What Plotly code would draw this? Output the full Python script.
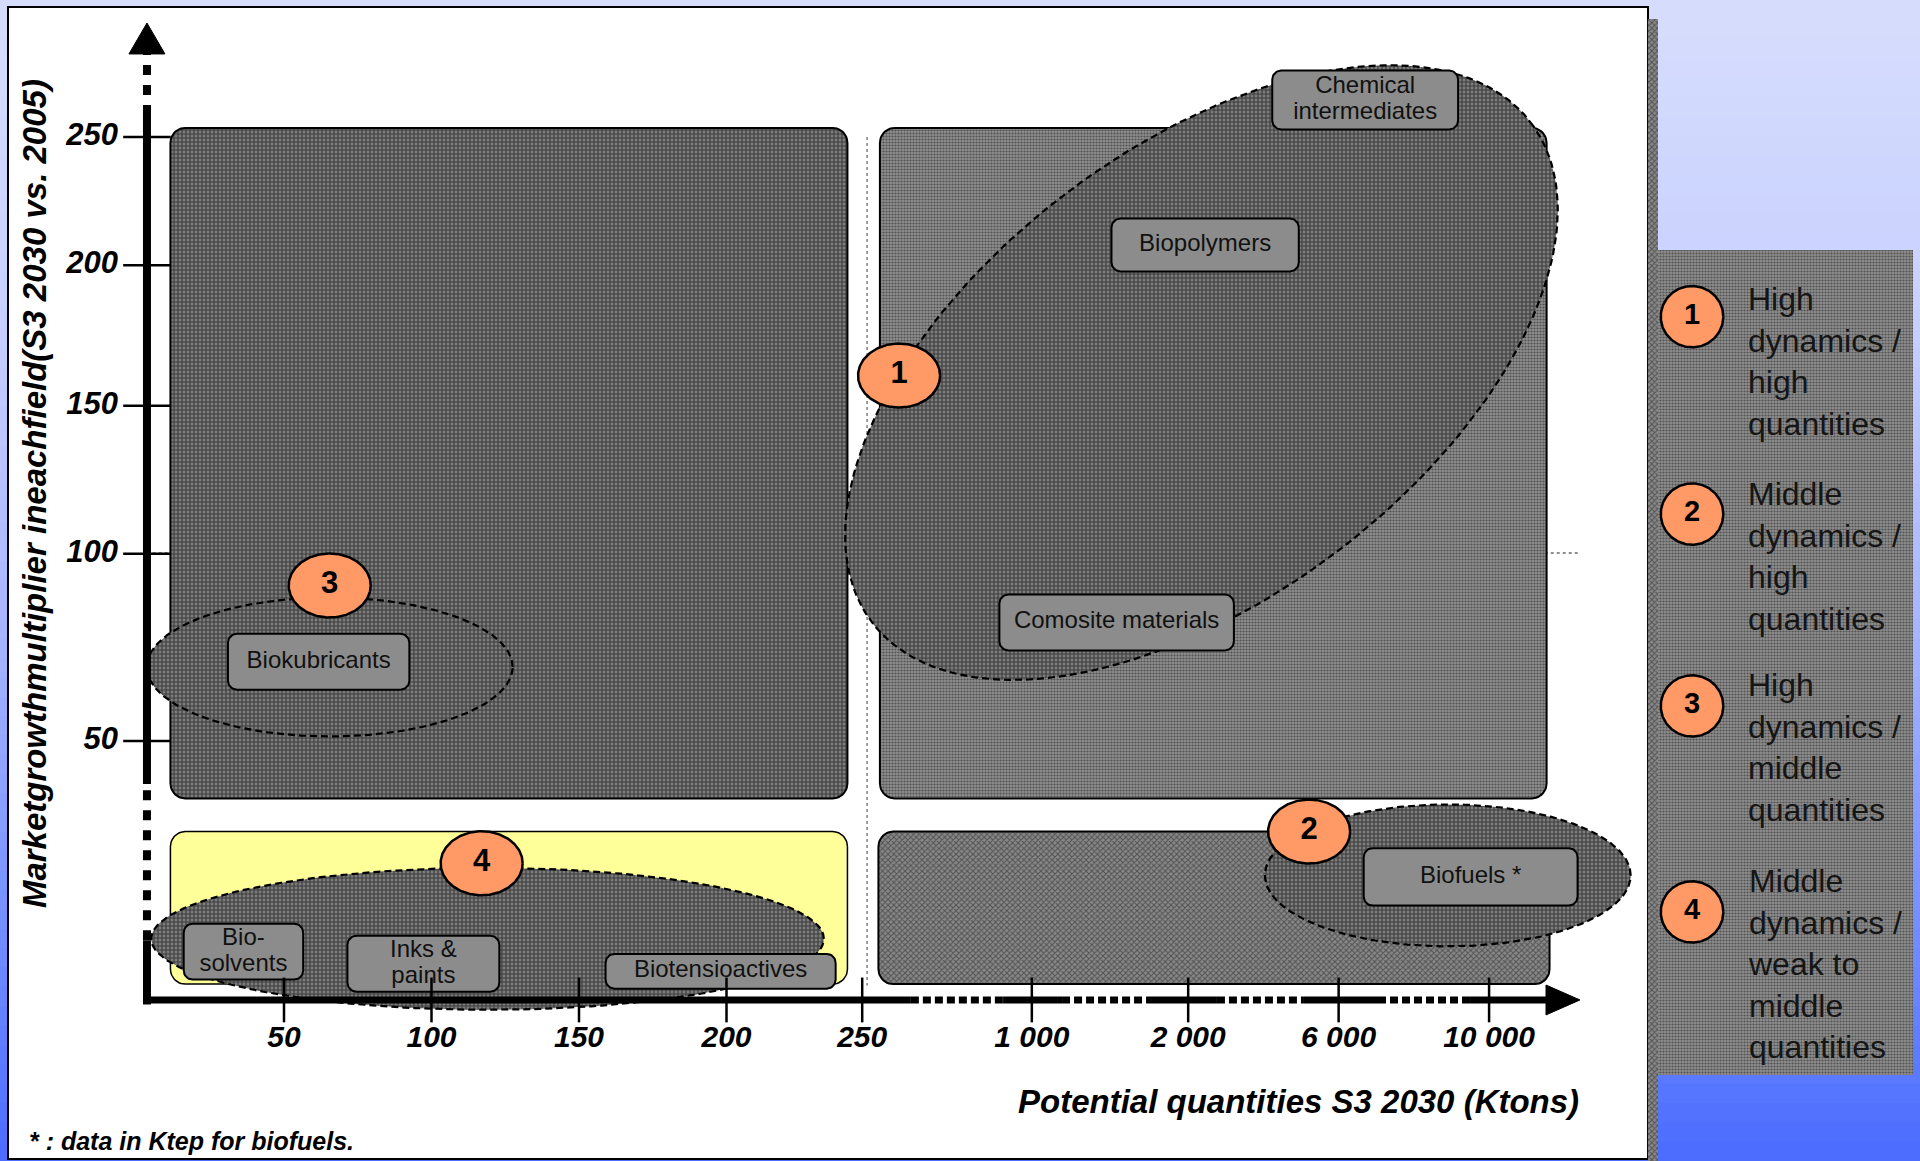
import numpy as np
import plotly.graph_objects as go

FONT = "Liberation Sans, Arial, Helvetica, sans-serif"

# ---------------------------------------------------------------------------
# Axis scales (axis units: one unit is roughly one labelled tick step)
# ---------------------------------------------------------------------------
X_TICK_LABELS = ["50", "100", "150", "200", "250", "1 000", "2 000", "6 000", "10 000"]
X_TICK_POS = [1.0, 2.0, 3.0, 4.0, 4.92, 6.07, 7.13, 8.15, 9.17]
Y_TICK_LABELS = ["50", "100", "150", "200", "250"]
Y_TICK_POS = [1.0, 2.24, 3.22, 4.15, 5.0]

X_TITLE = "Potential quantities S3 2030 (Ktons)"
Y_TITLE = "Marketgrowthmultiplier ineachfield(S3 2030 vs. 2005)"
FOOTNOTE = "* : data in Ktep for biofuels."

# ---------------------------------------------------------------------------
# Quadrants of the growth / quantity map
# ---------------------------------------------------------------------------
QUAD_NAMES = ["high growth, low quantity", "high growth, high quantity",
              "low growth, low quantity", "low growth, high quantity"]
QUAD_X0 = [0.23, 5.04, 0.23, 5.03]
QUAD_X1 = [4.82, 9.56, 4.82, 9.58]
QUAD_Y0 = [0.62, 0.62, -0.61, -0.61]
QUAD_Y1 = [5.06, 5.06, 0.40, 0.40]

# ---------------------------------------------------------------------------
# Numbered groups of fields (ellipses)
# ---------------------------------------------------------------------------
GROUP_IDS = ["1", "2", "3", "4"]
GROUP_CX = [7.22, 8.89, 1.31, 2.38]
GROUP_CY = [3.44, 0.11, 1.49, -0.31]
GROUP_RX = [2.78, 1.24, 1.24, 2.28]
GROUP_RY = [1.50, 0.47, 0.46, 0.47]
GROUP_TILT = [36.0, 0.0, 0.0, 0.0]
GROUP_BADGE_X = [5.17, 7.95, 1.31, 2.34]
GROUP_BADGE_Y = [3.42, 0.40, 2.03, 0.19]
GROUP_DESC = [
    "High<br>dynamics /<br>high<br>quantities",
    "Middle<br>dynamics /<br>high<br>quantities",
    "High<br>dynamics /<br>middle<br>quantities",
    "Middle<br>dynamics /<br>weak to<br>middle<br>quantities",
]

# ---------------------------------------------------------------------------
# Application fields (label boxes)
# ---------------------------------------------------------------------------
FIELDS = ["Chemical<br>intermediates", "Biopolymers", "Comosite materials",
          "Biokubricants", "Biofuels *", "Bio-<br>solvents", "Inks &<br>paints",
          "Biotensioactives"]
FIELD_X0 = [7.70, 6.61, 5.85, 0.62, 8.32, 0.32, 1.43, 3.18]
FIELD_X1 = [8.96, 7.88, 7.44, 1.85, 9.77, 1.13, 2.46, 4.74]
FIELD_Y0 = [5.05, 4.11, 1.60, 1.34, -0.09, -0.58, -0.66, -0.64]
FIELD_Y1 = [5.44, 4.46, 1.97, 1.71, 0.29, -0.21, -0.29, -0.41]

# ---------------------------------------------------------------------------
# Styles
# ---------------------------------------------------------------------------
PAT_DARK = dict(shape="+", bgcolor="#7c7c7c", fgcolor="#000000", size=4, solidity=0.5)
PAT_LIGHT = dict(shape=".", bgcolor="#8e8e8e", fgcolor="#181818", size=3, solidity=0.42)
PAT_MEDIUM = dict(shape="x", bgcolor="#888888", fgcolor="#1c1c1c", size=4, solidity=0.45)
QUAD_STYLE = [("#4c4c4c", PAT_DARK), ("#8a8a8a", PAT_LIGHT),
              ("#FFFF99", None), ("#7a7a7a", PAT_MEDIUM)]
ORANGE = "#FF9966"
BOX_GRAY = "#8c8c8c"

# view window of the axes (covers the whole canvas)
X_RANGE = [-0.9254, 12.0915]
Y_RANGE = [-1.7815, 5.9073]

fig = go.Figure()


def ellipse(cx, cy, rx, ry, tilt=0.0, n=200):
    t = np.linspace(0, 2 * np.pi, n + 1)
    th = np.deg2rad(tilt)
    x = cx + rx * np.cos(th) * np.cos(t) - ry * np.sin(th) * np.sin(t)
    y = cy + rx * np.sin(th) * np.cos(t) + ry * np.cos(th) * np.sin(t)
    return x, y


def rounded_rect(x0, x1, y0, y1, r):
    xs, ys = [], []
    corners = [(x1 - r, y1 - r, 0, 90), (x0 + r, y1 - r, 90, 180),
               (x0 + r, y0 + r, 180, 270), (x1 - r, y0 + r, 270, 360)]
    for cx, cy, a0, a1 in corners:
        a = np.deg2rad(np.linspace(a0, a1, 12))
        xs.extend(cx + r * np.cos(a))
        ys.extend(cy + r * np.sin(a))
    xs.append(xs[0])
    ys.append(ys[0])
    return xs, ys


def add_area(x, y, fill, line_color="black", line_width=2.0, dash=None, pattern=None):
    kw = dict(x=x, y=y, mode="lines", fill="toself", fillcolor=fill,
              line=dict(color=line_color, width=line_width, dash=dash),
              hoverinfo="skip", showlegend=False)
    if pattern is not None:
        kw["fillpattern"] = pattern
    fig.add_trace(go.Scatter(**kw))


def add_line(x, y, width, color="black", dash=None):
    fig.add_trace(go.Scatter(x=x, y=y, mode="lines",
                             line=dict(color=color, width=width, dash=dash),
                             hoverinfo="skip", showlegend=False))


def add_text(x, y, text, size, color="black", position="middle center"):
    fig.add_trace(go.Scatter(x=x, y=y, mode="text", text=text, textposition=position,
                             textfont=dict(family=FONT, size=size, color=color),
                             hoverinfo="skip", showlegend=False))


# ---- right-hand side: shadow strip and legend panel -----------------------
add_area([10.247, 10.315, 10.315, 10.247, 10.247], [5.781, 5.781, -1.79, -1.79, 5.781],
         "#7a7a7a", line_width=0, pattern=PAT_MEDIUM)
add_area([10.315, 12.044, 12.044, 10.315, 10.315], [4.252, 4.252, -1.212, -1.212, 4.252],
         "#8e8e8e", line_width=0, pattern=PAT_LIGHT)

# ---- dotted reference lines splitting the map -----------------------------
add_line([0.11, 9.79], [2.245, 2.245], 1.3, color="#6a6a6a", dash="dot")
add_line([4.953, 4.953], [5.0, -0.62], 1.3, color="#6a6a6a", dash="dot")

# ---- quadrants ------------------------------------------------------------
for i in range(len(QUAD_NAMES)):
    fill, pat = QUAD_STYLE[i]
    x, y = rounded_rect(QUAD_X0[i], QUAD_X1[i], QUAD_Y0[i], QUAD_Y1[i], 0.1)
    add_area(x, y, fill, line_width=2.0 if pat is not None else 1.5, pattern=pat)

# ---- group ellipses -------------------------------------------------------
for i in range(len(GROUP_IDS)):
    x, y = ellipse(GROUP_CX[i], GROUP_CY[i], GROUP_RX[i], GROUP_RY[i], GROUP_TILT[i])
    add_area(x, y, "#4c4c4c", line_width=2.2, dash="7px,4px", pattern=PAT_DARK)

# ---- field label boxes ----------------------------------------------------
LINE_STEP = 0.086
for i, name in enumerate(FIELDS):
    x, y = rounded_rect(FIELD_X0[i], FIELD_X1[i], FIELD_Y0[i], FIELD_Y1[i], 0.06)
    add_area(x, y, BOX_GRAY, line_width=2.0)
    lines = name.split("<br>")
    cx = (FIELD_X0[i] + FIELD_X1[i]) / 2
    cy = (FIELD_Y0[i] + FIELD_Y1[i]) / 2
    offs = [(len(lines) - 1) / 2 - k for k in range(len(lines))]
    add_text([cx] * len(lines), [cy + o * 2 * LINE_STEP for o in offs], lines, 24,
             color="#111111")

# ---- numbered badges on the map -------------------------------------------
for i, gid in enumerate(GROUP_IDS):
    x, y = ellipse(GROUP_BADGE_X[i], GROUP_BADGE_Y[i], 0.278, 0.212)
    add_area(x, y, ORANGE, line_width=2.5)
add_text(GROUP_BADGE_X, GROUP_BADGE_Y, [f"<b>{g}</b>" for g in GROUP_IDS], 31)

# ---- legend badges and descriptions ---------------------------------------
LEG_X = 10.546
LEG_BADGE_Y = [3.81, 2.503, 1.232, -0.132]
LEG_TEXT_Y = [3.51, 2.225, 0.960, -0.480]
for i, gid in enumerate(GROUP_IDS):
    x, y = ellipse(LEG_X, LEG_BADGE_Y[i], 0.212, 0.203)
    add_area(x, y, ORANGE, line_width=2.5)
add_text([LEG_X] * 4, LEG_BADGE_Y, [f"<b>{g}</b>" for g in GROUP_IDS], 29)

# ---- axes ------------------------------------------------------------------
AX_X = 0.071     # vertical axis position on the x scale
AX_Y = -0.715    # horizontal axis position on the y scale

# vertical axis: solid and broken stretches, arrow head
add_line([AX_X, AX_X], [AX_Y - 0.03, -0.32], 8)
add_line([AX_X, AX_X], [-0.32, 0.715], 8, dash="10px,10px")
add_line([AX_X, AX_X], [0.715, 5.146], 8)
add_line([AX_X, AX_X], [5.146, 5.56], 8, dash="10px,10px")
add_area([AX_X - 0.122, AX_X + 0.122, AX_X, AX_X - 0.122], [5.55, 5.55, 5.755, 5.55],
         "black", line_width=1)

# horizontal axis: solid and dotted stretches, arrow head
SOLID_X = [(AX_X, 5.25), (5.875, 6.275), (6.878, 7.325), (7.915, 8.417), (9.041, 9.57)]
DOTTED_X = [(5.25, 5.875), (6.275, 6.878), (7.325, 7.915), (8.417, 9.041)]
for a, b in SOLID_X:
    add_line([a, b], [AX_Y, AX_Y], 7)
for a, b in DOTTED_X:
    add_line([a, b], [AX_Y, AX_Y], 7, dash="8px,4px")
add_area([9.556, 9.556, 9.786, 9.556], [AX_Y + 0.099, AX_Y - 0.099, AX_Y, AX_Y + 0.099],
         "black", line_width=1)

# tick marks crossing the axes
fig.add_trace(go.Scatter(x=X_TICK_POS, y=[AX_Y] * len(X_TICK_POS), mode="markers",
                         marker=dict(symbol="line-ns", size=32,
                                     line=dict(color="black", width=2.5)),
                         hoverinfo="skip", showlegend=False))
fig.add_trace(go.Scatter(x=[AX_X] * len(Y_TICK_POS), y=Y_TICK_POS, mode="markers",
                         marker=dict(symbol="line-ew", size=34,
                                     line=dict(color="black", width=2.5)),
                         hoverinfo="skip", showlegend=False))

# tick labels
add_text(X_TICK_POS, [-0.98] * len(X_TICK_POS),
         [f"<b><i>{t}</i></b>" for t in X_TICK_LABELS], 30)
add_text([-0.125] * len(Y_TICK_POS), Y_TICK_POS,
         [f"<b><i>{t}</i></b>" for t in Y_TICK_LABELS], 31, position="middle left")

# ---- titles and notes -----------------------------------------------------
annotations = [
    dict(x=9.79, y=-1.39, xref="x", yref="y", xanchor="right", yanchor="middle",
         text=f"<b><i>{X_TITLE}</i></b>", showarrow=False,
         font=dict(family=FONT, size=33, color="black")),
    dict(x=-0.69, y=2.64, xref="x", yref="y", xanchor="center", yanchor="middle",
         text=f"<b><i>{Y_TITLE}</i></b>", textangle=-90, showarrow=False,
         font=dict(family=FONT, size=33, color="black")),
    dict(x=27 / 1920, y=1 - 1141 / 1161, xref="paper", yref="paper",
         xanchor="left", yanchor="middle", text=f"<b><i>{FOOTNOTE}</i></b>",
         showarrow=False, font=dict(family=FONT, size=25, color="black")),
]
for i, desc in enumerate(GROUP_DESC):
    annotations.append(dict(x=10.91, y=LEG_TEXT_Y[i], xref="x", yref="y",
                            xanchor="left", yanchor="middle", align="left",
                            text=desc, showarrow=False,
                            font=dict(family=FONT, size=32, color="#151515")))

# ---- page background: vertical blue gradient and white chart panel ---------
stop_f = [0.0, 0.26, 0.55, 0.78, 1.0]
stop_rgb = np.array([[214, 221, 252], [200, 209, 255], [166, 180, 255],
                     [120, 145, 255], [74, 108, 255]], dtype=float)
shapes = []
n_strips = 60
for k in range(n_strips):
    f0, f1 = k / n_strips, (k + 1) / n_strips
    fm = (f0 + f1) / 2
    rgb = [int(round(np.interp(fm, stop_f, stop_rgb[:, c]))) for c in range(3)]
    shapes.append(dict(type="rect", xref="paper", yref="paper", x0=0, x1=1,
                       y0=1 - f1 - 0.001, y1=1 - f0, line=dict(width=0),
                       fillcolor=f"rgb({rgb[0]},{rgb[1]},{rgb[2]})", layer="below"))
shapes.append(dict(type="rect", xref="paper", yref="paper",
                   x0=8 / 1920, x1=1648 / 1920, y0=1 - 1159 / 1161, y1=1 - 7 / 1161,
                   fillcolor="white", line=dict(color="black", width=2), layer="below"))

fig.update_layout(
    width=1920, height=1161, autosize=False,
    margin=dict(l=0, r=0, t=0, b=0, pad=0),
    paper_bgcolor="#a9b8ff", plot_bgcolor="rgba(0,0,0,0)",
    xaxis=dict(range=X_RANGE, visible=False, fixedrange=True),
    yaxis=dict(range=Y_RANGE, visible=False, fixedrange=True),
    shapes=shapes, annotations=annotations, showlegend=False,
)

fig.write_html("out.html")
